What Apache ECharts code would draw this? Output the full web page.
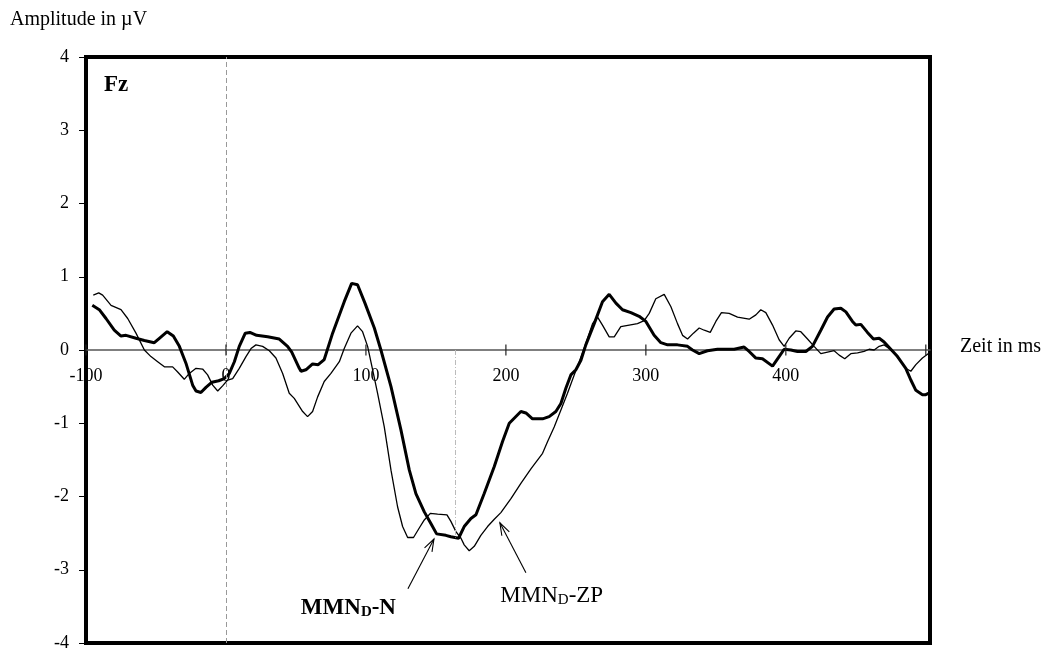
<!DOCTYPE html>
<html>
<head>
<meta charset="utf-8">
<script src="https://cdn.jsdelivr.net/npm/echarts@6/dist/echarts.min.js"></script>
<style>
  html, body { margin: 0; padding: 0; background: #fff; }
  #chart { width: 1050px; height: 651px; }
</style>
</head>
<body>
<div id="chart"></div>
<script>
// Difference waves at electrode Fz: [time in ms, amplitude in µV]
const mmnN = [
  [-95.5,0.61],[-90.5,0.55],[-85.7,0.43],[-79.8,0.27],[-75,0.19],[-71.4,0.20],[-64.3,0.16],[-58.3,0.13],
  [-51.2,0.10],[-47.6,0.16],[-42,0.25],[-37.6,0.19],[-33.3,0.05],[-28.6,-0.18],[-23.8,-0.48],[-21.4,-0.56],
  [-17.9,-0.58],[-14.3,-0.51],[-10,-0.44],[-5.2,-0.42],[-1.2,-0.39],[2.4,-0.32],[6,-0.16],[9.5,0.05],
  [13.8,0.23],[17.1,0.24],[21.9,0.20],[29.8,0.18],[38.1,0.15],[44,0.05],[47,-0.03],[52.4,-0.25],
  [53.6,-0.29],[57.1,-0.27],[61.9,-0.19],[65.9,-0.20],[70.2,-0.13],[76.2,0.23],[84.5,0.66],[89.8,0.91],
  [94,0.89],[99.3,0.64],[106,0.30],[110.7,0],[117.9,-0.50],[125,-1.09],[131,-1.64],[135.7,-1.96],
  [141.7,-2.21],[146.4,-2.37],[150.5,-2.51],[157.1,-2.53],[160.7,-2.55],[166.2,-2.57],[170.2,-2.41],[175,-2.30],
  [178.6,-2.25],[184.5,-1.96],[191.7,-1.59],[197.6,-1.25],[202.4,-1.00],[210.7,-0.84],[214.3,-0.86],[219,-0.94],
  [226.2,-0.94],[230.9,-0.91],[235.7,-0.84],[239.3,-0.73],[242.9,-0.52],[246.4,-0.34],[250,-0.27],[253.6,-0.14],
  [257.1,0.07],[263.1,0.36],[269,0.66],[273.8,0.76],[278.6,0.64],[283.3,0.55],[289.3,0.51],[295.2,0.46],
  [300,0.39],[305.9,0.20],[310.7,0.10],[315.5,0.07],[322.6,0.07],[329.8,0.05],[333.3,0],[338.1,-0.05],
  [344,-0.01],[351.2,0.01],[359.5,0.01],[363.1,0.01],[370.2,0.04],[373.8,-0.02],[378.6,-0.11],[383.3,-0.12],
  [390.5,-0.22],[395.2,-0.09],[398.8,0.01],[403.6,0],[408.3,-0.02],[414.3,-0.02],[419,0.05],[425,0.27],
  [429.8,0.45],[434.5,0.56],[439.3,0.57],[442.9,0.52],[447.6,0.39],[450,0.34],[453.6,0.35],[458.3,0.24],
  [462.6,0.15],[466.7,0.16],[470.2,0.11],[475,0.01],[479.8,-0.09],[485.7,-0.25],[489.3,-0.41],[492.9,-0.55],
  [497.6,-0.61],[500,-0.61],[503,-0.58]
];

const mmnZP = [
  [-94.8,0.75],[-90.9,0.78],[-88.1,0.75],[-82.1,0.61],[-75,0.55],[-70.2,0.43],[-64.3,0.23],[-58.3,0],
  [-53.6,-0.09],[-48.8,-0.16],[-44,-0.23],[-38.1,-0.23],[-34.5,-0.30],[-29.8,-0.40],[-26.2,-0.32],[-21.4,-0.25],
  [-16.7,-0.26],[-13.1,-0.34],[-9.5,-0.48],[-5.9,-0.56],[-2.4,-0.49],[1.2,-0.41],[4.8,-0.39],[9.5,-0.25],
  [14.3,-0.09],[17.9,0.02],[21.4,0.07],[26.2,0.05],[31,-0.01],[35.7,-0.11],[40.5,-0.32],[45.2,-0.59],
  [48.8,-0.66],[54.8,-0.84],[58.3,-0.91],[61.9,-0.84],[65.5,-0.64],[70.2,-0.43],[75,-0.32],[81,-0.16],
  [84.5,0.02],[89.3,0.23],[94,0.33],[97.6,0.25],[101.2,0.05],[104.8,-0.27],[108.3,-0.59],[113.1,-1.05],
  [117.9,-1.64],[122.6,-2.14],[126.2,-2.41],[129.8,-2.56],[134,-2.56],[138.1,-2.43],[141.7,-2.32],[146,-2.23],
  [151.2,-2.24],[157.9,-2.25],[160.7,-2.34],[164.3,-2.48],[167.9,-2.57],[170.2,-2.66],[173.8,-2.74],[177.4,-2.68],
  [182.1,-2.53],[186.9,-2.41],[191.7,-2.31],[196.4,-2.22],[203.6,-2.03],[210.7,-1.82],[218,-1.62],[226.2,-1.41],
  [229.8,-1.25],[234.5,-1.05],[239.3,-0.82],[244,-0.59],[248.8,-0.34],[252.4,-0.16],[257.1,0.09],[261.9,0.36],
  [265.5,0.45],[269,0.34],[273.8,0.18],[277.4,0.18],[282.1,0.32],[288.1,0.34],[294,0.36],[298.8,0.40],
  [302.4,0.50],[307.1,0.70],[313.1,0.76],[317.9,0.59],[322.6,0.36],[326.2,0.20],[329.8,0.15],[334,0.23],
  [338.1,0.30],[341.7,0.27],[346,0.24],[350,0.39],[354,0.51],[359.5,0.50],[365.5,0.45],[373.8,0.42],
  [378.6,0.48],[382.1,0.55],[385.7,0.51],[390.5,0.34],[395.2,0.14],[398.8,0.05],[402.4,0.16],[407.1,0.26],
  [410.7,0.25],[415.5,0.15],[420.2,0.05],[425,-0.05],[429.8,-0.03],[434.5,-0.01],[438.1,-0.07],[442.1,-0.12],
  [446.4,-0.05],[451.2,-0.04],[455.9,-0.02],[459.5,0.01],[463.1,0],[466.7,0.05],[470.2,0.07],[473.8,0.02],
  [477.4,-0.04],[482.1,-0.16],[485.7,-0.25],[489.3,-0.29],[492.9,-0.20],[497.6,-0.11],[502.4,-0.04]
];

// Tick positions on the time axis (ms); the end tick carries no label
const timeTicks = [-100, 0, 100, 200, 300, 400, 500];
const timeLabels = ['-100', '0', '100', '200', '300', '400', ''];

// Peak latency marker of the MMN
const peakLatency = 164;
const peakAmplitude = -2.56;

// Arrow annotations: [tail, tip] in data coordinates
const arrowN = [[130, -3.26], [148.6, -2.58]];
const arrowZP = [[214.3, -3.04], [195.7, -2.36]];

const SERIF = '"Liberation Serif", "Times New Roman", serif';

const chart = echarts.init(document.getElementById('chart'), null, { renderer: 'canvas' });

const option = {
  animation: false,
  backgroundColor: '#fff',
  grid: {
    show: true,
    left: 86, top: 57, width: 844, height: 586,
    outerBoundsMode: 'none', containLabel: false,
    borderColor: '#000', borderWidth: 4, backgroundColor: 'transparent'
  },
  xAxis: {
    type: 'value', min: -100, max: 503, interval: 100,
    axisLine: { onZero: true, lineStyle: { color: '#555', width: 1.5 } },
    axisTick: { show: false },
    splitLine: { show: false },
    axisLabel: { show: false }
  },
  yAxis: {
    type: 'value', min: -4, max: 4, interval: 1,
    axisLine: { show: false, onZero: false },
    axisTick: { show: true, length: 7, lineStyle: { color: '#000', width: 1 } },
    splitLine: { show: false },
    axisLabel: { margin: 17, color: '#000', fontSize: 18, fontFamily: SERIF }
  },
  series: [
    {
      name: 'MMN_D-ZP', type: 'line', data: mmnZP, showSymbol: false,
      lineStyle: { color: '#000', width: 1.3 }, z: 3,
      markLine: {
        silent: true, symbol: 'none', label: { show: false }, animation: false,
        data: [
          { xAxis: 0, lineStyle: { color: '#999', width: 1, type: [5, 3] } },
          [
            { coord: [peakLatency, 0], lineStyle: { color: '#bbb', width: 1, type: [5, 2, 1, 2] } },
            { coord: [peakLatency, peakAmplitude] }
          ]
        ]
      }
    },
    {
      name: 'MMN_D-N', type: 'line', data: mmnN, showSymbol: false,
      lineStyle: { color: '#000', width: 3 }, z: 4
    },
    {
      // crossing tick marks and their labels on the zero line
      type: 'scatter', data: timeTicks.map(t => [t, 0]), symbol: 'rect',
      symbolSize: [1.2, 11], itemStyle: { color: '#222', opacity: 1 }, silent: true, z: 5,
      label: {
        show: true, position: 'bottom', distance: 12, opacity: 1,
        color: '#000', textBorderWidth: 0, fontSize: 18, fontFamily: SERIF,
        formatter: p => timeLabels[p.dataIndex]
      },
      labelLayout: { hideOverlap: false }
    }
  ],
  graphic: []
};

chart.setOption(option);

function arrowShapes(pair) {
  const tail = chart.convertToPixel({ gridIndex: 0 }, pair[0]);
  const tip = chart.convertToPixel({ gridIndex: 0 }, pair[1]);
  const ang = Math.atan2(tail[1] - tip[1], tail[0] - tip[0]);
  const len = 13, spread = 0.33;
  const h1 = [tip[0] + len * Math.cos(ang + spread), tip[1] + len * Math.sin(ang + spread)];
  const h2 = [tip[0] + len * Math.cos(ang - spread), tip[1] + len * Math.sin(ang - spread)];
  const st = { stroke: '#000', lineWidth: 1.1, fill: null };
  return [
    { type: 'polyline', shape: { points: [tail, tip] }, style: st, silent: true },
    { type: 'polyline', shape: { points: [h1, tip, h2] }, style: st, silent: true }
  ];
}

const labelN = chart.convertToPixel({ gridIndex: 0 }, [53.5, -3.3]);
const labelZP = chart.convertToPixel({ gridIndex: 0 }, [196, -3.13]);

chart.setOption({
  graphic: [
    {
      type: 'text', left: 10, top: 10,
      style: { text: 'Amplitude in µV', font: '20px ' + SERIF, fill: '#000' }
    },
    {
      type: 'text', left: 960, top: 337,
      style: { text: 'Zeit in ms', font: '20px ' + SERIF, fill: '#000' }
    },
    {
      type: 'text', left: 104, top: 74,
      style: { text: 'Fz', font: 'bold 23px ' + SERIF, fill: '#000' }
    },
    {
      type: 'text', x: labelN[0], y: labelN[1],
      style: {
        text: '{m|MMN}{s|D}{m|-N}',
        rich: {
          m: { fontFamily: SERIF, fontSize: 23, fontWeight: 'bold', fill: '#000', color: '#000', lineHeight: 28, verticalAlign: 'bottom' },
          s: { fontFamily: SERIF, fontSize: 15, fontWeight: 'bold', fill: '#000', color: '#000', lineHeight: 10, verticalAlign: 'bottom' }
        }
      }
    },
    {
      type: 'text', x: labelZP[0], y: labelZP[1],
      style: {
        text: '{m|MMN}{s|D}{m|-ZP}',
        rich: {
          m: { fontFamily: SERIF, fontSize: 23, fill: '#000', color: '#000', lineHeight: 28, verticalAlign: 'bottom' },
          s: { fontFamily: SERIF, fontSize: 15, fill: '#000', color: '#000', lineHeight: 10, verticalAlign: 'bottom' }
        }
      }
    },
    ...arrowShapes(arrowN),
    ...arrowShapes(arrowZP)
  ]
});
</script>
</body>
</html>
